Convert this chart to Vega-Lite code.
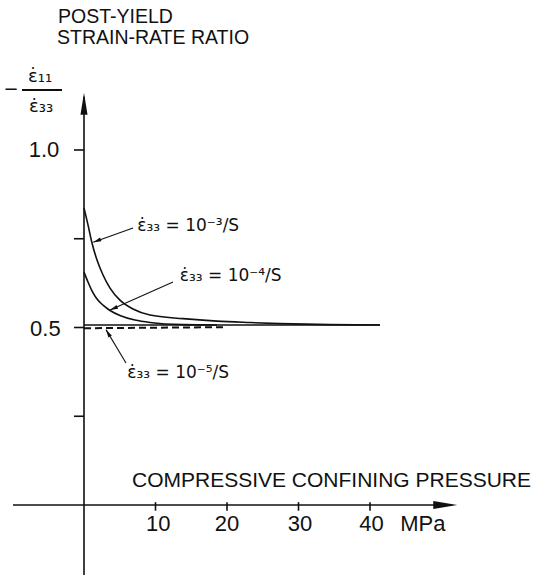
{
  "$schema": "https://vega.github.io/schema/vega-lite/v6.json",
  "width": 541,
  "height": 578,
  "padding": 0,
  "autosize": {"type": "none"},
  "background": "white",
  "config": {"view": {"stroke": null}, "font": "Liberation Sans"},
  "datasets": {
    "curves": [
      {"s": "10^-3/s", "x": 0, "y": 0.837},
      {"s": "10^-3/s", "x": 0.56, "y": 0.789},
      {"s": "10^-3/s", "x": 1.12, "y": 0.738},
      {"s": "10^-3/s", "x": 1.82, "y": 0.69},
      {"s": "10^-3/s", "x": 2.66, "y": 0.648},
      {"s": "10^-3/s", "x": 3.64, "y": 0.611},
      {"s": "10^-3/s", "x": 5.03, "y": 0.577},
      {"s": "10^-3/s", "x": 6.85, "y": 0.552},
      {"s": "10^-3/s", "x": 9.23, "y": 0.535},
      {"s": "10^-3/s", "x": 13.85, "y": 0.525},
      {"s": "10^-3/s", "x": 18.6, "y": 0.518},
      {"s": "10^-3/s", "x": 23.2, "y": 0.514},
      {"s": "10^-3/s", "x": 27.4, "y": 0.511},
      {"s": "10^-3/s", "x": 34.4, "y": 0.508},
      {"s": "10^-3/s", "x": 41.4, "y": 0.507},
      {"s": "10^-4/s", "x": 0, "y": 0.656},
      {"s": "10^-4/s", "x": 0.56, "y": 0.628},
      {"s": "10^-4/s", "x": 1.12, "y": 0.603},
      {"s": "10^-4/s", "x": 1.82, "y": 0.58},
      {"s": "10^-4/s", "x": 2.66, "y": 0.563},
      {"s": "10^-4/s", "x": 3.64, "y": 0.548},
      {"s": "10^-4/s", "x": 5.03, "y": 0.534},
      {"s": "10^-4/s", "x": 7.13, "y": 0.521},
      {"s": "10^-4/s", "x": 9.23, "y": 0.514},
      {"s": "10^-4/s", "x": 13.85, "y": 0.508},
      {"s": "10^-4/s", "x": 18.6, "y": 0.507},
      {"s": "asymptote", "x": 0, "y": 0.507},
      {"s": "asymptote", "x": 41.4, "y": 0.507},
      {"s": "10^-5/s", "x": 0, "y": 0.498},
      {"s": "10^-5/s", "x": 20, "y": 0.501}
    ],
    "axes": [
      {"id": "y", "x": 0, "y": -0.197, "x2": 0, "y2": 1.15},
      {"id": "x", "x": -9.93, "y": 0, "x2": 51.5, "y2": 0}
    ],
    "ticks": [
      {"axis": "y", "x": 0, "y": 0.25},
      {"axis": "y", "x": 0, "y": 0.5},
      {"axis": "y", "x": 0, "y": 0.75},
      {"axis": "y", "x": 0, "y": 1.0},
      {"axis": "x", "x": 10, "y": 0},
      {"axis": "x", "x": 20, "y": 0},
      {"axis": "x", "x": 30, "y": 0},
      {"axis": "x", "x": 40, "y": 0}
    ],
    "pointers": [
      {"id": "a3", "x": 6.85, "y": 0.78},
      {"id": "a3", "x": 1.3, "y": 0.74},
      {"id": "a4", "x": 12.45, "y": 0.628},
      {"id": "a4", "x": 3.64, "y": 0.549},
      {"id": "a5", "x": 5.87, "y": 0.4},
      {"id": "a5", "x": 3.08, "y": 0.494}
    ],
    "heads": [
      {"id": "yaxis", "x": 0, "y": 1.161},
      {"id": "xaxis", "x": 52.2, "y": 0},
      {"id": "a3", "x": 1.3, "y": 0.74},
      {"id": "a4", "x": 3.64, "y": 0.549},
      {"id": "a5", "x": 3.08, "y": 0.494}
    ],
    "texts": [
      {"kind": "title", "text": "POST-YIELD", "x": -3.64, "y": 1.3746},
      {"kind": "title", "text": "STRAIN-RATE RATIO", "x": -3.78, "y": 1.3155},
      {"kind": "frac", "text": "−", "x": -10.2, "y": 1.169},
      {"kind": "frac", "text": "ε̇₁₁", "x": -6.15, "y": 1.207},
      {"kind": "frac", "text": "ε̇₃₃", "x": -6.0, "y": 1.122},
      {"kind": "ytick", "text": "1.0", "x": -5.6, "y": 1.0},
      {"kind": "ytick", "text": "0.5", "x": -5.4, "y": 0.495},
      {"kind": "xtick", "text": "10", "x": 10.4, "y": -0.054},
      {"kind": "xtick", "text": "20", "x": 20, "y": -0.054},
      {"kind": "xtick", "text": "30", "x": 30.2, "y": -0.054},
      {"kind": "xtick", "text": "40", "x": 40.2, "y": -0.054},
      {"kind": "xtick", "text": "MPa", "x": 47.4, "y": -0.054},
      {"kind": "xtitle", "text": "COMPRESSIVE CONFINING PRESSURE", "x": 6.71, "y": 0.068},
      {"kind": "annot", "text": "ε̇₃₃ = 10⁻³/S", "x": 7.46, "y": 0.786},
      {"kind": "annot", "text": "ε̇₃₃ = 10⁻⁴/S", "x": 13.4, "y": 0.645},
      {"kind": "annot", "text": "ε̇₃₃ = 10⁻⁵/S", "x": 6.06, "y": 0.372}
    ]
  },
  "encoding": {
    "x": {"field": "x", "type": "quantitative", "scale": {"domain": [-11.748, 63.916], "nice": false, "zero": false}, "axis": null},
    "y": {"field": "y", "type": "quantitative", "scale": {"domain": [-0.2056, 1.4225], "nice": false, "zero": false}, "axis": null}
  },
  "layer": [
    {
      "data": {"name": "axes"},
      "mark": {"type": "rule", "color": "#111", "strokeWidth": 1.6},
      "encoding": {"x2": {"field": "x2"}, "y2": {"field": "y2"}}
    },
    {
      "data": {"name": "ticks"},
      "transform": [{"filter": "datum.axis == 'y'"}],
      "mark": {"type": "rule", "color": "#111", "strokeWidth": 1.6},
      "encoding": {"x": {"datum": -1.4, "type": "quantitative"}, "x2": {"datum": 0}}
    },
    {
      "data": {"name": "ticks"},
      "transform": [{"filter": "datum.axis == 'x'"}],
      "mark": {"type": "rule", "color": "#111", "strokeWidth": 1.6},
      "encoding": {"y": {"datum": 0.008, "type": "quantitative"}, "y2": {"datum": -0.016}}
    },
    {
      "data": {"name": "curves"},
      "transform": [{"filter": "datum.s != '10^-5/s'"}],
      "mark": {"type": "line", "color": "#111", "strokeWidth": 1.6, "interpolate": "monotone"},
      "encoding": {"detail": {"field": "s"}}
    },
    {
      "data": {"name": "curves"},
      "transform": [{"filter": "datum.s == '10^-5/s'"}],
      "mark": {"type": "line", "color": "#111", "strokeWidth": 2, "strokeDash": [7, 4]},
      "encoding": {"detail": {"field": "s"}}
    },
    {
      "data": {"name": "pointers"},
      "mark": {"type": "line", "color": "#111", "strokeWidth": 1.1},
      "encoding": {"detail": {"field": "id"}}
    },
    {
      "data": {"name": "heads"},
      "transform": [{"filter": "datum.id == 'yaxis'"}],
      "mark": {"type": "point", "filled": true, "color": "#111", "opacity": 1, "shape": "M0,0 L0.32,2 L-0.32,2 Z", "size": 484, "angle": 0},
      "encoding": {}
    },
    {
      "data": {"name": "heads"},
      "transform": [{"filter": "datum.id == 'xaxis'"}],
      "mark": {"type": "point", "filled": true, "color": "#111", "opacity": 1, "shape": "M0,0 L0.33,2 L-0.33,2 Z", "size": 576, "angle": 90},
      "encoding": {}
    },
    {
      "data": {"name": "heads"},
      "transform": [{"filter": "datum.id == 'a3'"}],
      "mark": {"type": "point", "filled": true, "color": "#111", "opacity": 1, "shape": "M0,0 L0.5,2 L-0.5,2 Z", "size": 64, "angle": 249},
      "encoding": {}
    },
    {
      "data": {"name": "heads"},
      "transform": [{"filter": "datum.id == 'a4'"}],
      "mark": {"type": "point", "filled": true, "color": "#111", "opacity": 1, "shape": "M0,0 L0.5,2 L-0.5,2 Z", "size": 64, "angle": 246},
      "encoding": {}
    },
    {
      "data": {"name": "heads"},
      "transform": [{"filter": "datum.id == 'a5'"}],
      "mark": {"type": "point", "filled": true, "color": "#111", "opacity": 1, "shape": "M0,0 L0.5,2 L-0.5,2 Z", "size": 64, "angle": 329},
      "encoding": {}
    },
    {
      "data": {"name": "texts"},
      "transform": [{"filter": "datum.kind == 'title'"}],
      "mark": {"type": "text", "align": "left", "baseline": "middle", "fontSize": 19.5, "color": "#111"},
      "encoding": {"text": {"field": "text"}}
    },
    {
      "data": {"name": "texts"},
      "transform": [{"filter": "datum.kind == 'frac'"}],
      "mark": {"type": "text", "align": "center", "baseline": "middle", "fontSize": 18, "font": "DejaVu Sans", "color": "#111"},
      "encoding": {"text": {"field": "text"}}
    },
    {
      "data": {"name": "ticks"},
      "transform": [{"filter": "datum.axis == 'y'"}],
      "mark": {"type": "rule", "color": "#111", "strokeWidth": 1.3},
      "encoding": {"x": {"datum": -8.67, "type": "quantitative"}, "x2": {"datum": -3.08}, "y": {"datum": 1.169, "type": "quantitative"}}
    },
    {
      "data": {"name": "texts"},
      "transform": [{"filter": "datum.kind == 'ytick'"}],
      "mark": {"type": "text", "align": "center", "baseline": "middle", "fontSize": 22, "color": "#111"},
      "encoding": {"text": {"field": "text"}}
    },
    {
      "data": {"name": "texts"},
      "transform": [{"filter": "datum.kind == 'xtick'"}],
      "mark": {"type": "text", "align": "center", "baseline": "middle", "fontSize": 22, "color": "#111"},
      "encoding": {"text": {"field": "text"}}
    },
    {
      "data": {"name": "texts"},
      "transform": [{"filter": "datum.kind == 'xtitle'"}],
      "mark": {"type": "text", "align": "left", "baseline": "middle", "fontSize": 21, "color": "#111"},
      "encoding": {"text": {"field": "text"}}
    },
    {
      "data": {"name": "texts"},
      "transform": [{"filter": "datum.kind == 'annot'"}],
      "mark": {"type": "text", "align": "left", "baseline": "middle", "fontSize": 17, "font": "DejaVu Sans", "color": "#111"},
      "encoding": {"text": {"field": "text"}}
    }
  ]
}
